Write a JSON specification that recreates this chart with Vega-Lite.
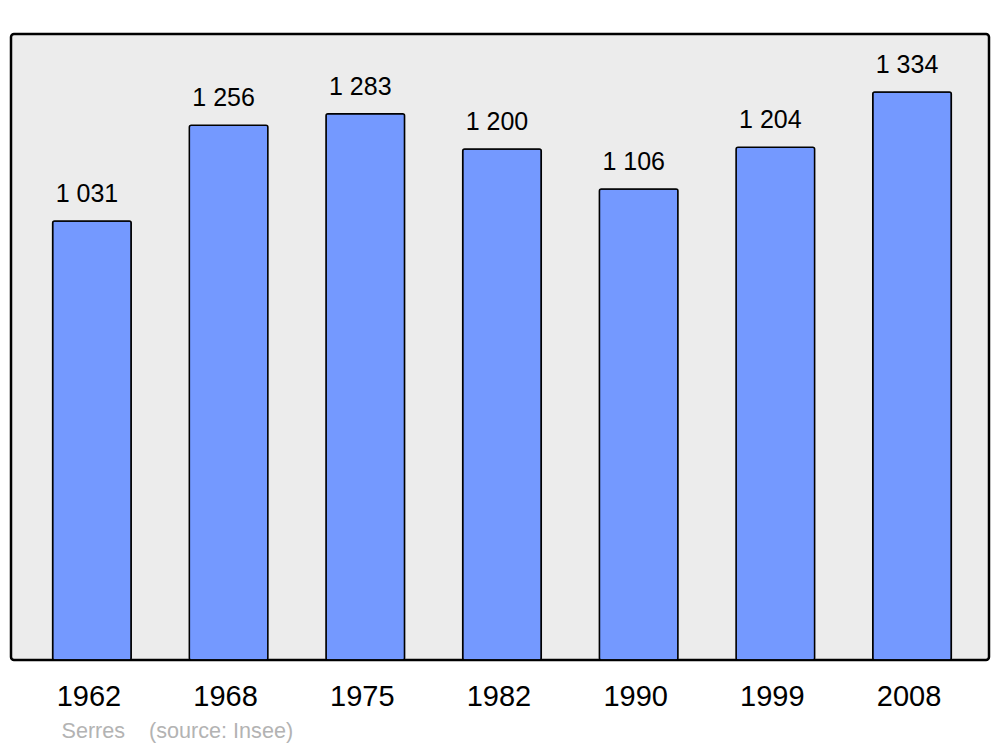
{
  "$schema": "https://vega.github.io/schema/vega-lite/v6.json",
  "width": 978,
  "height": 626,
  "autosize": {"type": "none"},
  "padding": {"left": 11, "top": 34, "right": 11, "bottom": 87},
  "background": "#ffffff",
  "data": {
    "values": [
      {"year": "1962", "population": 1031},
      {"year": "1968", "population": 1256},
      {"year": "1975", "population": 1283},
      {"year": "1982", "population": 1200},
      {"year": "1990", "population": 1106},
      {"year": "1999", "population": 1204},
      {"year": "2008", "population": 1334}
    ]
  },
  "encoding": {
    "x": {
      "field": "year",
      "type": "nominal",
      "sort": null,
      "scale": {"paddingInner": 0.425, "paddingOuter": 0.29, "align": 0.525},
      "axis": {
        "title": "Serres\u00a0\u00a0\u00a0\u00a0(source: Insee)",
        "titleFont": "Liberation Sans",
        "titleFontSize": 21.6,
        "titleFontWeight": "normal",
        "titleColor": "#b3b3b3",
        "titleAnchor": "start",
        "titleAlign": "left",
        "titleBaseline": "alphabetic",
        "titleX": 50,
        "titleY": 77,
        "labelAngle": 0,
        "labelFont": "Liberation Sans",
        "labelFontSize": 29,
        "labelColor": "#000000",
        "labelBaseline": "alphabetic",
        "labelPadding": 45,
        "labelOffset": -3,
        "ticks": false,
        "domain": false
      }
    },
    "y": {
      "field": "population",
      "type": "quantitative",
      "scale": {"domain": [0, 1470], "nice": false, "zero": true},
      "axis": null
    }
  },
  "layer": [
    {
      "mark": {"type": "bar", "fill": "#7499ff", "stroke": "#000000", "strokeWidth": 1.5, "cornerRadius": 2}
    },
    {
      "mark": {"type": "text", "font": "Liberation Sans", "fontSize": 25, "color": "#000000", "baseline": "alphabetic", "align": "center", "dy": -19, "dx": -5}
      ,
      "encoding": {
        "text": {"field": "population", "type": "quantitative", "format": ",d"}
      }
    }
  ],
  "config": {
    "locale": {
      "number": {"decimal": ",", "thousands": "\u00a0", "grouping": [3], "currency": ["", " €"]}
    },
    "view": {"fill": "#ececec", "stroke": "#000000", "strokeWidth": 2.5, "cornerRadius": 3}
  }
}
